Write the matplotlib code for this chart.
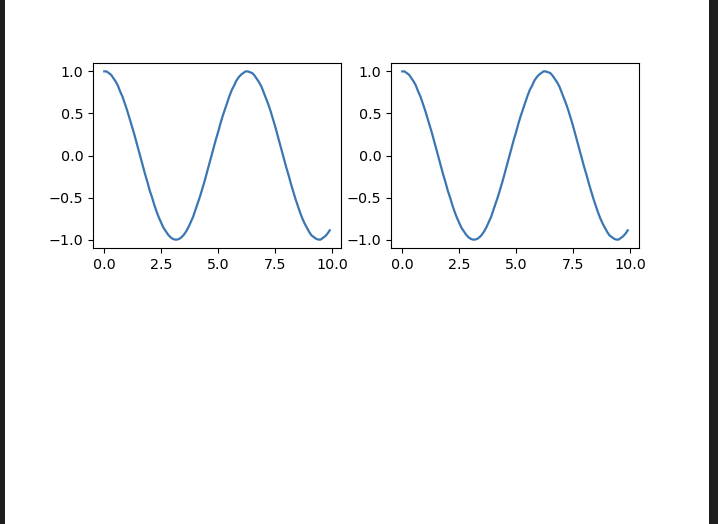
import matplotlib
matplotlib.use('Agg')
import matplotlib.pyplot as plt
from matplotlib.patches import Rectangle

# values (same curve in both panels)
x_vals = [0.0, 0.1, 0.2, 0.3, 0.4, 0.5, 0.6, 0.7, 0.8, 0.9,
          1.0, 1.1, 1.2, 1.3, 1.4, 1.5, 1.6, 1.7, 1.8, 1.9,
          2.0, 2.1, 2.2, 2.3, 2.4, 2.5, 2.6, 2.7, 2.8, 2.9,
          3.0, 3.1, 3.2, 3.3, 3.4, 3.5, 3.6, 3.7, 3.8, 3.9,
          4.0, 4.1, 4.2, 4.3, 4.4, 4.5, 4.6, 4.7, 4.8, 4.9,
          5.0, 5.1, 5.2, 5.3, 5.4, 5.5, 5.6, 5.7, 5.8, 5.9,
          6.0, 6.1, 6.2, 6.3, 6.4, 6.5, 6.6, 6.7, 6.8, 6.9,
          7.0, 7.1, 7.2, 7.3, 7.4, 7.5, 7.6, 7.7, 7.8, 7.9,
          8.0, 8.1, 8.2, 8.3, 8.4, 8.5, 8.6, 8.7, 8.8, 8.9,
          9.0, 9.1, 9.2, 9.3, 9.4, 9.5, 9.6, 9.7, 9.8, 9.9]
y_vals = [1.00, 1.00, 0.98, 0.96, 0.92, 0.88, 0.83, 0.76, 0.70, 0.62,
          0.54, 0.45, 0.36, 0.27, 0.17, 0.07, -0.03, -0.13, -0.23, -0.32,
          -0.42, -0.50, -0.59, -0.67, -0.74, -0.80, -0.86, -0.90, -0.94, -0.97,
          -0.99, -1.00, -1.00, -0.99, -0.97, -0.94, -0.90, -0.85, -0.79, -0.73,
          -0.65, -0.57, -0.49, -0.40, -0.31, -0.21, -0.11, -0.01, 0.09, 0.19,
          0.28, 0.38, 0.47, 0.55, 0.63, 0.71, 0.78, 0.83, 0.89, 0.93,
          0.96, 0.98, 1.00, 1.00, 0.99, 0.98, 0.95, 0.91, 0.87, 0.82,
          0.75, 0.68, 0.61, 0.53, 0.44, 0.35, 0.25, 0.15, 0.05, -0.05,
          -0.15, -0.24, -0.34, -0.43, -0.52, -0.60, -0.68, -0.75, -0.81, -0.86,
          -0.91, -0.95, -0.97, -0.99, -1.00, -1.00, -0.98, -0.96, -0.93, -0.89]

line_color = '#3a76b2'

fig = plt.figure(figsize=(7.18, 5.24), dpi=100)
fig.patch.set_facecolor('white')

# dark window edges on left and right
fig.patches.append(Rectangle((0, 0), 5 / 718, 1, transform=fig.transFigure,
                             facecolor='#1e1e1e', edgecolor='none', zorder=-1))
fig.patches.append(Rectangle((709 / 718, 0), 9 / 718, 1, transform=fig.transFigure,
                             facecolor='#1e1e1e', edgecolor='none', zorder=-1))

bottom = 1 - 248 / 524
height = (248 - 63) / 524
width = (341 - 93) / 718
ax1 = fig.add_axes([93 / 718, bottom, width, height])
ax2 = fig.add_axes([391 / 718, bottom, width, height])

for ax in (ax1, ax2):
    ax.plot(x_vals, y_vals, color=line_color, linewidth=1.6)
    ax.set_xticks([0.0, 2.5, 5.0, 7.5, 10.0])
    ax.set_yticks([-1.0, -0.5, 0.0, 0.5, 1.0])
    ax.tick_params(labelsize=10.3)

fig.savefig('out.png', dpi=100)
